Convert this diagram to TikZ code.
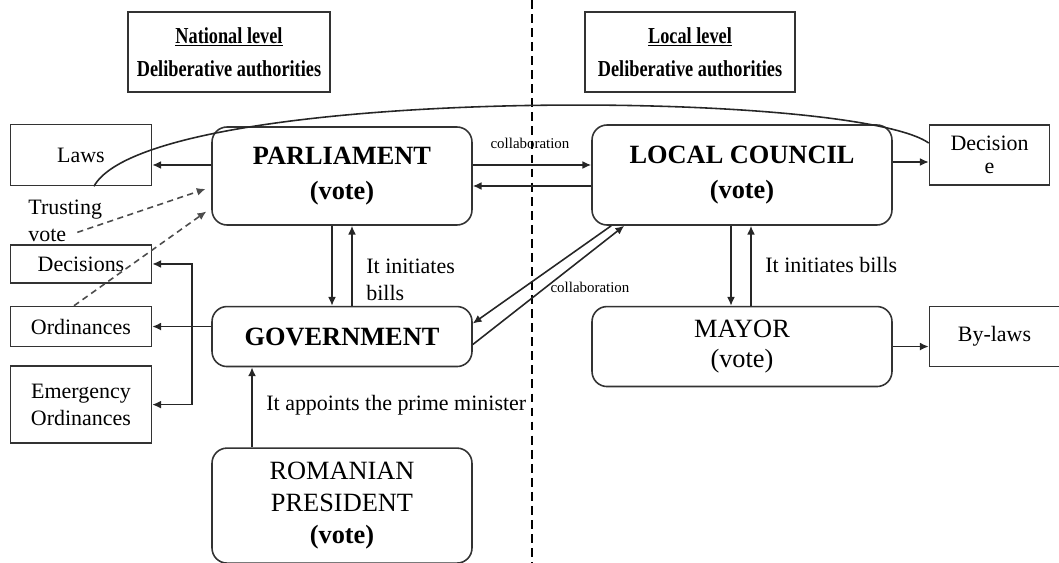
\documentclass[tikz,border=0pt]{standalone}
\usepackage{fontspec}
\setmainfont{Liberation Serif}
\usetikzlibrary{positioning}
\usetikzlibrary{arrows.meta}
\newcommand{\txtfont}{\fontsize{12.5}{15.5}\selectfont}
\newcommand{\organfont}{\fontsize{15}{20}\selectfont}
\tikzstyle{level} = [rectangle, draw=black!80, line width=0.9pt, align=center, font=\bfseries\fontsize{13}{19}\selectfont]
\tikzstyle{organ} = [rectangle, rounded corners=0.3cm, draw=black!80, line width=0.9pt, align=center, font=\organfont]
\tikzstyle{output} = [rectangle, draw=black!80, line width=0.9pt, align=center, font=\txtfont, minimum width=2.82cm]
\tikzstyle{note} = [font=\txtfont, align=left, inner sep=0pt]
\tikzstyle{collab} = [font=\fontsize{8.5}{10}\selectfont, inner sep=1pt]
\tikzstyle{arrow} = [line width=0.9pt,->,>={Latex[length=5pt,width=4.5pt]}, draw=black!85]
\tikzstyle{trust} = [line width=0.9pt,->,>={Latex[length=5pt,width=4.5pt]}, draw=black!70, dash pattern=on 3.5pt off 2.5pt, shorten >=0.12cm]

\begin{document}
\begin{tikzpicture}[x=0.02cm, y=-0.02cm, node distance=1cm]
\useasboundingbox (0,0) rectangle (1059,563);

        % Dividing line between the two levels
        \draw[line width=1.2pt, dash pattern=on 5pt off 3pt] (532,0) -- (532,563);

        % Level headers
        \node[level, minimum width=4.04cm, minimum height=1.6cm] (natl) at (229,52) {\scalebox{0.8}[1]{\underline{National level}}\\\scalebox{0.8}[1]{Deliberative authorities}};
        \node[level, minimum width=4.2cm, minimum height=1.6cm] (locl) at (690,52) {\scalebox{0.8}[1]{\underline{Local level}}\\\scalebox{0.8}[1]{Deliberative authorities}};

        % Authorities
        \node[organ, minimum width=5.2cm, minimum height=1.96cm] (parl) at (342,176) {\textbf{PARLIAMENT}\\\textbf{(vote)}};
        \node[organ, minimum width=6cm, minimum height=2cm] (lcoun) at (742,175) {\textbf{LOCAL COUNCIL}\\\textbf{(vote)}};
        \node[organ, minimum width=5.2cm, minimum height=1.2cm, below=1.6cm of parl] (govt) {\textbf{GOVERNMENT}};
        \node[organ, minimum width=6cm, minimum height=1.6cm, below=1.6cm of lcoun, font=\fontsize{15}{17}\selectfont] (mayor) {MAYOR\\(vote)};
        \node[organ, minimum width=5.2cm, minimum height=2.3cm, below=1.6cm of govt, font=\fontsize{15}{18}\selectfont] (pres) {ROMANIAN\\PRESIDENT\\\textbf{(vote)}};

        % Acts
        \node[output, minimum height=1.22cm, left=1.18cm of parl, yshift=0.42cm] (laws) {Laws};
        \node[output, minimum width=2.4cm, minimum height=1.2cm, right=0.72cm of lcoun, yshift=0.4cm, font=\fontsize{12.5}{13}\selectfont] (decis) {Decision\\e};
        \node[output, minimum height=0.8cm, left=1.18cm of govt, yshift=0.2cm] (ordin) {Ordinances};
        \node[output, minimum height=0.76cm, above=0.44cm of ordin] (decs) {Decisions};
        \node[output, minimum height=1.54cm, below=0.36cm of ordin] (emerg) {Emergency\\Ordinances};
        \node[output, minimum width=2.6cm, minimum height=1.2cm, right=0.72cm of mayor, yshift=0.2cm] (bylaws) {By-laws};

        % Labels
        \node[note, anchor=west] (tvote) at (28,221) {Trusting\\vote};
        \node[note, anchor=west] (pinit) at (366,280) {It initiates\\bills};
        \node[note, anchor=west] (minit) at (765,265) {It initiates bills};
        \node[note, anchor=west] (appt) at (266,405) {It appoints the prime minister};
        \node[collab] (colla) at (530,143) {collaboration};
        \node[collab] (collb) at (590,287) {collaboration};

        % Connections
        \coordinate (pl) at ([yshift=0.22cm]parl.west);
        \draw[arrow] (pl) -- (pl -| laws.east);
        \coordinate (pc) at ([yshift=0.22cm]parl.east);
        \draw[arrow] (pc) -- (pc -| lcoun.west);
        \coordinate (cp) at ([yshift=-0.22cm]lcoun.west);
        \draw[arrow] (cp) -- (cp -| parl.east);
        \coordinate (cd) at ([yshift=0.26cm]lcoun.east);
        \draw[arrow] (cd) -- (cd -| decis.west);
        \coordinate (pg) at ([xshift=-0.2cm]parl.south);
        \draw[arrow] (pg) -- (pg |- govt.north);
        \coordinate (gp) at ([xshift=0.2cm]govt.north);
        \draw[arrow] (gp) -- (gp |- parl.south);
        \coordinate (cm) at ([xshift=-0.22cm]lcoun.south);
        \draw[arrow] (cm) -- (cm |- mayor.north);
        \coordinate (mc) at ([xshift=0.18cm]mayor.north);
        \draw[arrow] (mc) -- (mc |- lcoun.south);
        \draw[arrow] (mayor.east) -- (mayor.east -| bylaws.west);
        \coordinate (pr) at ([xshift=-1.8cm]pres.north);
        \draw[arrow] (pr) -- (pr |- govt.south);
        \coordinate (go) at ([yshift=0.2cm]govt.west);
        \draw[arrow] (go) -- (go -| ordin.east);
        \draw[arrow] ([xshift=0.8cm]emerg.east) |- (decs.east);
        \draw[arrow] ([xshift=0.8cm]emerg.east) -- (emerg.east);
        \draw[arrow] ([yshift=-0.16cm]govt.east) -- ([xshift=0.66cm]lcoun.south west);
        \draw[arrow] ([xshift=0.4cm]lcoun.south west) -- ([yshift=0.26cm]govt.east);

        % Trusting vote
        \draw[trust] ([xshift=-0.5cm,yshift=0.2cm]tvote.south east) -- ([yshift=-0.22cm]parl.west);
        \draw[trust] ([xshift=-0.14cm]ordin.north) -- ([yshift=-0.64cm]parl.west);

        % Curve from laws to decisions
        \draw[line width=0.9pt, draw=black!85] ([xshift=0.26cm]laws.south) .. controls (150,85) and (850,88) .. ([yshift=0.24cm]decis.west);

\end{tikzpicture}
\end{document}
